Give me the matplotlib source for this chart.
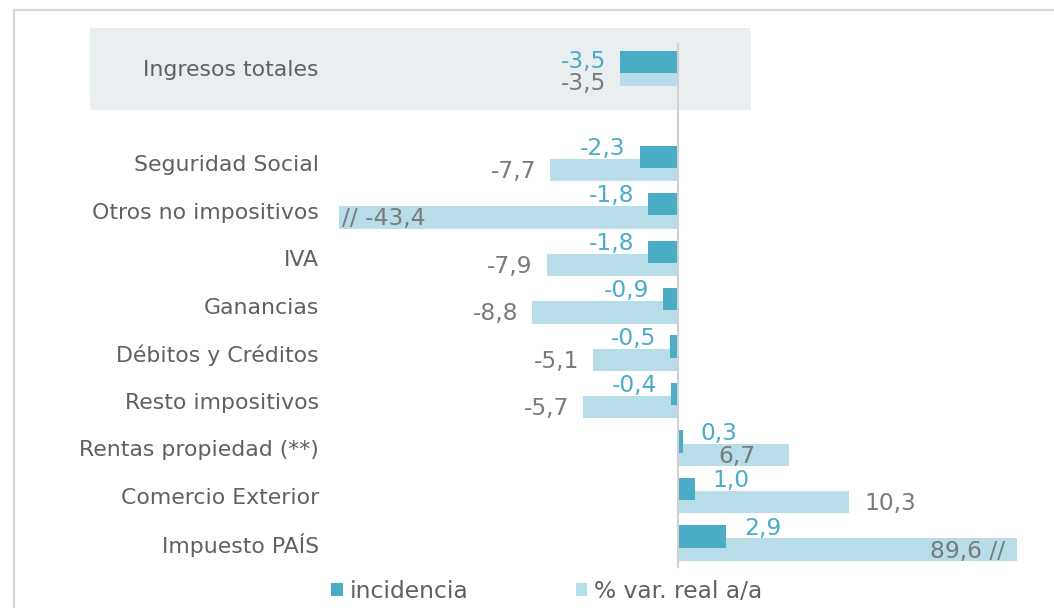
import numpy as np
import matplotlib
matplotlib.use("Agg")
import matplotlib.pyplot as plt
from matplotlib.patches import Rectangle, Patch

plt.rcParams['font.family'] = ['DejaVu Sans']

# ---------------- data ----------------
categories = ["Ingresos totales", "Seguridad Social", "Otros no impositivos", "IVA",
              "Ganancias", "Débitos y Créditos", "Resto impositivos",
              "Rentas propiedad (**)", "Comercio Exterior", "Impuesto PAÍS"]
incidencia = [-3.5, -2.3, -1.8, -1.8, -0.9, -0.5, -0.4, 0.3, 1.0, 2.9]
var_real = [-3.5, -7.7, -43.4, -7.9, -8.8, -5.1, -5.7, 6.7, 10.3, 89.6]
legend_labels = ["incidencia", "% var. real a/a"]
axis_cap = 20.45  # bars beyond this are drawn truncated (with //)

# ---------------- style ----------------
C_DARK = "#4BACC6"
C_LIGHT = "#B7DEE8"
C_CAT = "#606060"
C_VAL = "#7a7a7a"
W, H = 1054, 608
DPI = 100
FS_CAT = 15.8
FS_VAL = 16.8
FS_LEG = 16.8

fig = plt.figure(figsize=(W / DPI, H / DPI), dpi=DPI)

def fx(px):
    return px / W

def fy(py):
    return 1 - py / H

# outer light-gray frame
fig.patches.append(Rectangle((fx(14), fy(H + 20)), fx(W + 20) - fx(14), fy(10) - fy(H + 20),
                             transform=fig.transFigure, fill=False, edgecolor="#d9d9d9",
                             linewidth=1.6, zorder=-3))
# highlight box for the total (with faint shadow)
bx0, bx1, by0, by1 = 90, 750, 28, 107
fig.patches.append(Rectangle((fx(bx0 + 1), fy(by1 + 3)), fx(bx1 - bx0), fy(by0) - fy(by1),
                             transform=fig.transFigure, facecolor="#dfe4e7", edgecolor="none",
                             alpha=0.6, zorder=-2))
fig.patches.append(Rectangle((fx(bx0), fy(by1)), fx(bx1 - bx0), fy(by0) - fy(by1),
                             transform=fig.transFigure, facecolor="#e9eef1", edgecolor="none",
                             zorder=-1))

# axes placement (pixels)
ax_l, ax_r, ax_t, ax_b = 330, 1030, 20, 575
ax = fig.add_axes([fx(ax_l), fy(ax_b), fx(ax_r - ax_l), fy(ax_t) - fy(ax_b)])
ax.patch.set_visible(False)

px_per_unit = 16.6
zero_px = 678
ax.set_xlim(-(zero_px - ax_l) / px_per_unit, (ax_r - zero_px) / px_per_unit)
row_px = 47.45
row0_px = 68.5
ax.set_ylim((ax_b - row0_px) / row_px, (ax_t - row0_px) / row_px)

n = len(categories)
idx = np.arange(n)
ypos = np.where(idx == 0, 0, idx + 1).astype(float)

inc = np.array(incidencia)
var = np.array(var_real)
var_draw = np.clip(var, -axis_cap, axis_cap)

off = 0.14
hgt = 0.47
ax.barh(ypos + off, var_draw, height=hgt, color=C_LIGHT, zorder=2)
ax.barh(ypos - off, inc, height=hgt, color=C_DARK, zorder=3)

# vertical zero line
ax.axvline(0, ymin=(ax_b - 567) / (ax_b - ax_t), ymax=1 - (44 - ax_t) / (ax_b - ax_t),
           color="#d0d0d0", linewidth=1.5, zorder=4)

for s in ax.spines.values():
    s.set_visible(False)
ax.set_xticks([])
ax.set_yticks(ypos, labels=categories)
ax.tick_params(axis="y", length=0, pad=8, labelsize=FS_CAT, labelcolor=C_CAT)

def fmt(v):
    return f"{v:.1f}".replace(".", ",")

pt = 72 / DPI  # points per pixel

# dark (incidencia) labels
for i in range(n):
    v = inc[i]
    dy = -7 if i == 0 else -15
    if v < 0:
        dx, ha = -14, "right"
    else:
        dx, ha = 18, "left"
    ax.annotate(fmt(v), (v, ypos[i]), xytext=(dx * pt, -dy * pt), textcoords="offset points",
                ha=ha, va="center", color=C_DARK, fontsize=FS_VAL, zorder=5)

# light (% var) labels
for i in range(n):
    v = var[i]
    d = var_draw[i]
    dy = 15 if i == 0 else 8
    txt = fmt(v)
    if v < -axis_cap:
        txt, dx, ha = "// " + txt, 3, "left"
    elif v > axis_cap:
        txt, dx, ha = txt + " //", -12, "right"
    elif v < 0:
        dx, ha = -14, "right"
    elif v < 8:
        dx, ha = -34, "right"
    else:
        dx, ha = 15, "left"
    ax.annotate(txt, (d, ypos[i]), xytext=(dx * pt, -dy * pt), textcoords="offset points",
                ha=ha, va="center", color=C_VAL, fontsize=FS_VAL, zorder=5)

handles = [Patch(facecolor=C_DARK, edgecolor="none"), Patch(facecolor=C_LIGHT, edgecolor="none")]
fig.legend(handles, legend_labels, loc="center left", bbox_to_anchor=(fx(331), fy(591)),
           ncol=2, frameon=False, fontsize=FS_LEG, handlelength=0.5, handleheight=0.5,
           handletextpad=0.3, columnspacing=4.6, borderpad=0, borderaxespad=0,
           labelcolor=C_CAT)

fig.savefig("out.png", dpi=DPI)
